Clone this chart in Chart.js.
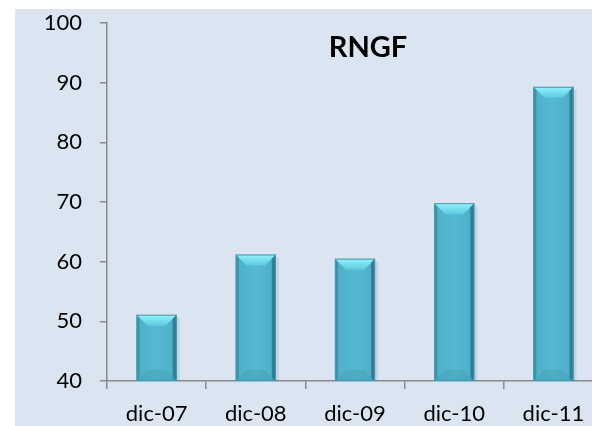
<!DOCTYPE html>
<html>
<head>
<meta charset="utf-8">
<script src="https://cdn.jsdelivr.net/npm/chart.js@4"></script>
<style>
  html, body { margin: 0; padding: 0; overflow: hidden; background: #fff; }
  #wrap { position: absolute; left: 0; top: 0; width: 610px; height: 426px; }
</style>
</head>
<body>
<div id="wrap"><canvas id="chartCanvas" width="610" height="426"></canvas></div>
<script>
// datos del gráfico
const categorias = ['dic-07', 'dic-08', 'dic-09', 'dic-10', 'dic-11'];
const valores = [51.1, 61.2, 60.5, 69.8, 89.3];
const tituloGrafico = 'RNGF';
const ejeMin = 40;
const ejeMax = 100;
const ejePaso = 10;

const AXIS_COLOR = '#8a8a8a';
const BAR_PCT = 0.405;

// fondo azul claro del área del gráfico
const fondoPlugin = {
  id: 'fondo',
  beforeDraw(chart) {
    const ctx = chart.ctx;
    ctx.save();
    ctx.fillStyle = '#ffffff';
    ctx.fillRect(0, 0, chart.width, chart.height);
    ctx.fillStyle = '#dbe5f1';
    ctx.fillRect(15, 9, chart.width - 15, chart.height - 9);
    ctx.restore();
  }
};

// biselado de las barras (encima de cada barra ya dibujada por Chart.js)
const biselPlugin = {
  id: 'bisel',
  afterDatasetsDraw(chart) {
    const ctx = chart.ctx;
    const meta = chart.getDatasetMeta(0);
    const area = chart.chartArea;
    meta.data.forEach(bar => {
      const w = bar.width;
      const left = bar.x - w / 2;
      const right = bar.x + w / 2;
      const top = bar.y;
      const bottom = Math.min(bar.base, area.bottom);
      const b = 11;
      ctx.save();
      // sombra derecha
      ctx.fillStyle = 'rgba(90,110,130,0.16)';
      ctx.fillRect(right, top + 3, 3, bottom - top - 3);
      // bisel superior
      const g = ctx.createLinearGradient(0, top, 0, top + b);
      g.addColorStop(0, '#90f4ff');
      g.addColorStop(1, '#5ccade');
      ctx.fillStyle = g;
      ctx.beginPath();
      ctx.moveTo(left, top);
      ctx.lineTo(right, top);
      ctx.lineTo(right - b, top + b);
      ctx.lineTo(left + b, top + b);
      ctx.closePath();
      ctx.fill();
      // bisel lateral izquierdo
      ctx.fillStyle = 'rgba(40,120,145,0.35)';
      ctx.beginPath();
      ctx.moveTo(left, top);
      ctx.lineTo(left + 3, top + 3);
      ctx.lineTo(left + 3, bottom - 3);
      ctx.lineTo(left, bottom);
      ctx.closePath();
      ctx.fill();
      // bisel lateral derecho
      ctx.fillStyle = 'rgba(30,90,110,0.45)';
      ctx.beginPath();
      ctx.moveTo(right, top);
      ctx.lineTo(right - 4, top + 4);
      ctx.lineTo(right - 4, bottom - 4);
      ctx.lineTo(right, bottom);
      ctx.closePath();
      ctx.fill();
      // bisel inferior
      ctx.fillStyle = 'rgba(50,130,155,0.22)';
      ctx.beginPath();
      ctx.moveTo(left, bottom);
      ctx.lineTo(right, bottom);
      ctx.lineTo(right - b, bottom - b);
      ctx.lineTo(left + b, bottom - b);
      ctx.closePath();
      ctx.fill();
      // borde
      ctx.strokeStyle = '#3f9fb8';
      ctx.lineWidth = 1;
      ctx.strokeRect(left + 0.5, top + 0.5, w - 1, bottom - top - 1);
      ctx.restore();
    });
  }
};

// título dentro del área del gráfico
const tituloPlugin = {
  id: 'tituloInterno',
  afterDraw(chart) {
    const ctx = chart.ctx;
    ctx.save();
    ctx.font = 'bold 29px Lato';
    ctx.fillStyle = '#000';
    ctx.textAlign = 'center';
    ctx.textBaseline = 'middle';
    ctx.fillText(tituloGrafico, 368, 48);
    ctx.restore();
  }
};

// degradado horizontal de cada barra
function colorBarra(c) {
  const chart = c.chart;
  const xScale = chart.scales && chart.scales.x;
  if (!chart.chartArea || !xScale) return '#52b6cf';
  const cx = xScale.getPixelForValue(c.dataIndex);
  const w = (xScale.width / categorias.length) * BAR_PCT;
  if (!Number.isFinite(cx) || !Number.isFinite(w)) return '#52b6cf';
  const g = chart.ctx.createLinearGradient(cx - w / 2, 0, cx + w / 2, 0);
  g.addColorStop(0, '#3e93a9');
  g.addColorStop(0.1, '#4fb2ca');
  g.addColorStop(0.5, '#55b9d1');
  g.addColorStop(0.88, '#4fb1c9');
  g.addColorStop(1, '#357f93');
  return g;
}

const ctx = document.getElementById('chartCanvas').getContext('2d');
new Chart(ctx, {
  type: 'bar',
  data: {
    labels: categorias,
    datasets: [{
      label: tituloGrafico,
      data: valores,
      backgroundColor: colorBarra,
      borderWidth: 0,
      barPercentage: BAR_PCT,
      categoryPercentage: 1,
    }],
  },
  options: {
    responsive: false,
    animation: false,
    layout: {
      padding: { left: 0, right: 7, top: 23, bottom: 0 },
    },
    scales: {
      x: {
        grid: {
          drawOnChartArea: false,
          drawTicks: true,
          tickLength: 8,
          color: AXIS_COLOR,
          lineWidth: 1.5,
          offset: true,
        },
        border: { display: true, color: AXIS_COLOR, width: 1.5 },
        ticks: {
          color: '#000',
          font: { family: 'Lato', size: 22 },
          padding: 12,
          maxRotation: 0,
        },
        afterFit(scale) {
          scale.height = 45;
          scale.paddingLeft = 0;
          scale.paddingRight = 0;
        },
      },
      y: {
        min: ejeMin,
        max: ejeMax,
        ticks: {
          stepSize: ejePaso,
          color: '#000',
          font: { family: 'Lato', size: 22 },
          padding: 18,
        },
        grid: {
          drawOnChartArea: false,
          drawTicks: true,
          tickLength: 7,
          color: AXIS_COLOR,
          lineWidth: 1.5,
        },
        border: { display: true, color: AXIS_COLOR, width: 1.5 },
        afterFit(scale) {
          scale.width = 107;
          scale.paddingTop = 0;
          scale.paddingBottom = 0;
        },
      },
    },
    plugins: {
      legend: { display: false },
      title: { display: false },
      tooltip: { enabled: false },
    },
  },
  plugins: [fondoPlugin, biselPlugin, tituloPlugin],
});
</script>
</body>
</html>
